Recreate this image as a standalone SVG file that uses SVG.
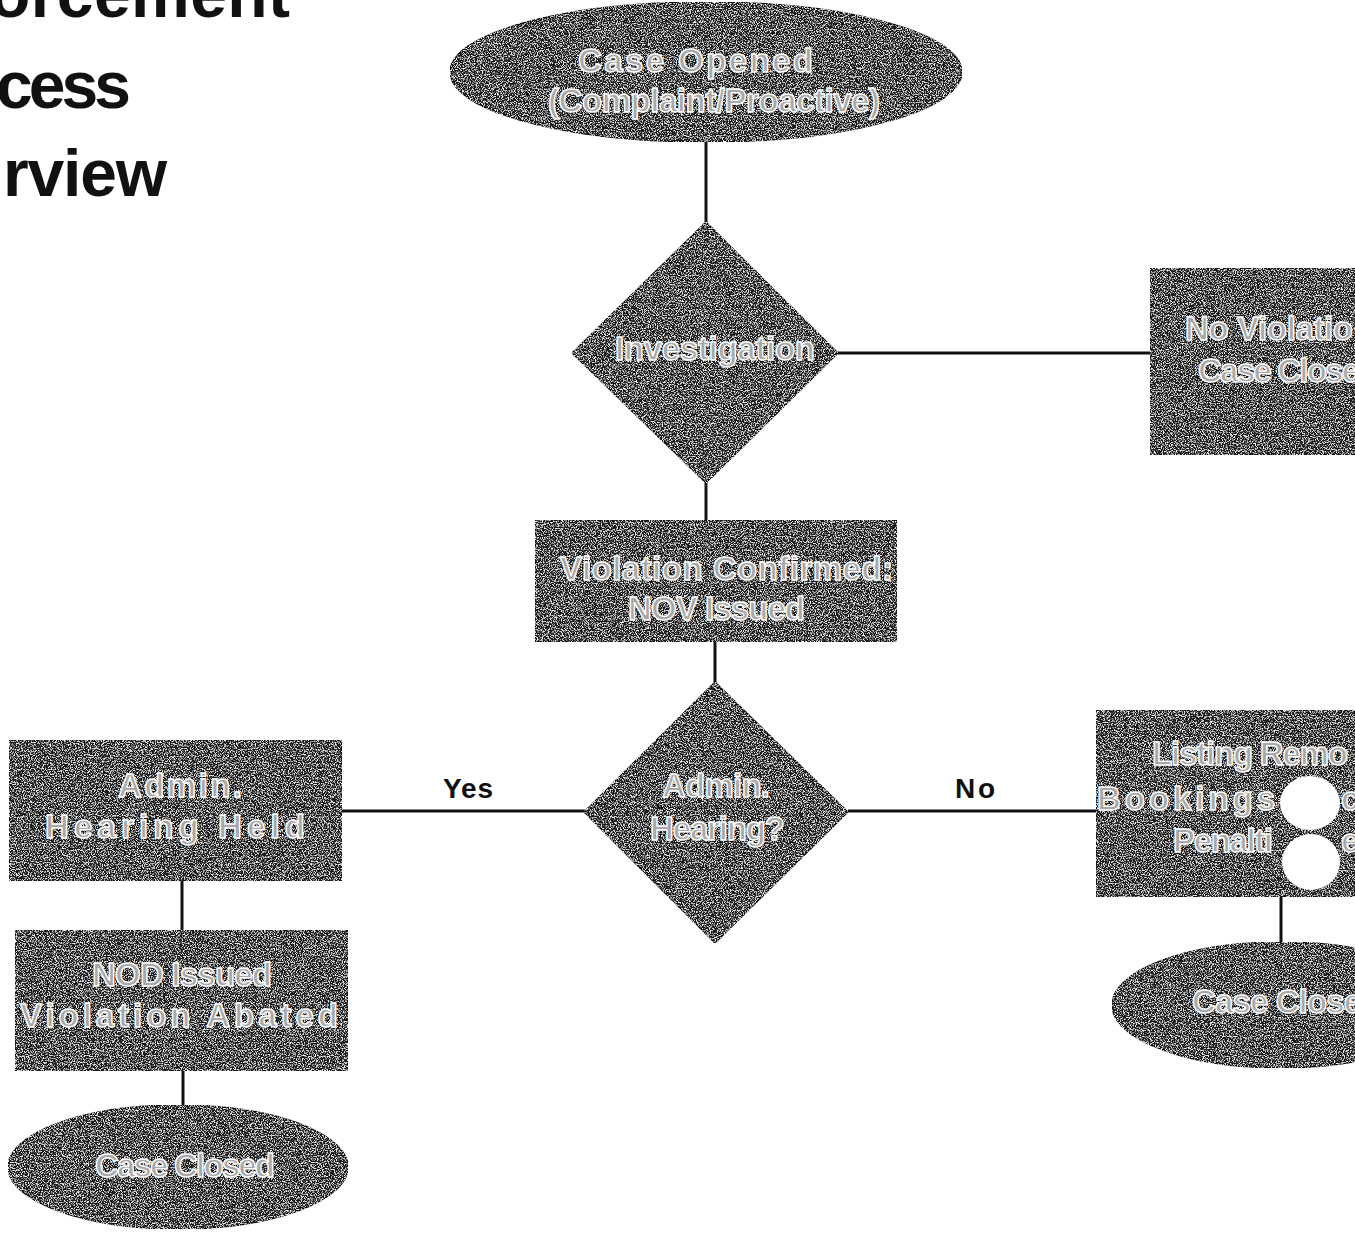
<svg xmlns="http://www.w3.org/2000/svg" width="1355" height="1236" viewBox="0 0 1355 1236">
<defs>
<filter id="grain" x="0" y="0" width="100%" height="100%">
<feTurbulence type="fractalNoise" baseFrequency="0.85" numOctaves="2" seed="7" result="n"/>
<feColorMatrix in="n" type="matrix" values="0 0 0 0 1  0 0 0 0 1  0 0 0 0 1  4 0 0 0 -1.95" result="w"/>
<feComposite in="w" in2="SourceGraphic" operator="in" result="ws"/>
<feMerge><feMergeNode in="SourceGraphic"/><feMergeNode in="ws"/></feMerge>
</filter>
<style>
.shape{fill:#1c1c1c;stroke:#111;stroke-width:1.5;filter:url(#grain)}
.lbl{font-family:"Liberation Sans",Arial,sans-serif;font-weight:bold;font-size:33px;fill:#a8a8a8;stroke:#fff;stroke-width:1.4;paint-order:fill}
.edge{stroke:#111;stroke-width:3;fill:none}
.yn{font-family:"Liberation Sans",Arial,sans-serif;font-weight:bold;font-size:28px;fill:#111}
.title{font-family:"Liberation Sans",Arial,sans-serif;font-weight:bold;font-size:66px;fill:#111}
.blob{fill:#fff}
</style>
</defs>
<rect width="1355" height="1236" fill="#fff"/>

<g id="title">
<text class="title" x="290" y="17" text-anchor="end" textLength="300">orcement</text>
<text class="title" x="131" y="108" text-anchor="end" textLength="135">cess</text>
<text class="title" x="167" y="196" text-anchor="end" textLength="164">rview</text>
</g>

<g id="connectors">
<line class="edge" x1="706" y1="142" x2="706" y2="222"/>
<line class="edge" x1="838" y1="353" x2="1150" y2="353"/>
<line class="edge" x1="706" y1="483" x2="706" y2="520"/>
<line class="edge" x1="715" y1="642" x2="715" y2="682"/>
<line class="edge" x1="342" y1="811" x2="585" y2="811"/>
<line class="edge" x1="848" y1="811" x2="1096" y2="811"/>
<line class="edge" x1="182" y1="881" x2="182" y2="930"/>
<line class="edge" x1="183" y1="1071" x2="183" y2="1105"/>
<line class="edge" x1="1281" y1="897" x2="1281" y2="942"/>
<text class="yn" x="443" y="798" textLength="50">Yes</text>
<text class="yn" x="955" y="798" textLength="40">No</text>
</g>

<g id="case-opened">
<ellipse class="shape" cx="706" cy="72" rx="256" ry="70"/>
<text class="lbl" x="578" y="72" textLength="235">Case Opened</text>
<text class="lbl" x="548" y="112" textLength="332">(Complaint/Proactive)</text>
</g>

<g id="investigation">
<polygon class="shape" points="706,222 838,353 706,483 572,353"/>
<text class="lbl" x="615" y="360" textLength="200">Investigation</text>
</g>

<g id="no-violation">
<rect class="shape" x="1150" y="268" width="230" height="187"/>
<text class="lbl" x="1185" y="340" textLength="168">No Violatio</text>
<text class="lbl" x="1198" y="382" textLength="162">Case Close</text>
</g>

<g id="violation-confirmed">
<rect class="shape" x="535" y="520" width="362" height="122"/>
<text class="lbl" x="560" y="580" textLength="333">Violation Confirmed:</text>
<text class="lbl" x="628" y="620" textLength="177">NOV Issued</text>
</g>

<g id="admin-hearing-q">
<polygon class="shape" points="715,682 848,812 715,943 584,812"/>
<text class="lbl" x="662" y="797" textLength="108">Admin.</text>
<text class="lbl" x="650" y="840" textLength="135">Hearing?</text>
</g>

<g id="admin-hearing-held">
<rect class="shape" x="9" y="740" width="333" height="141"/>
<text class="lbl" x="118" y="797" textLength="124">Admin.</text>
<text class="lbl" x="45" y="838" textLength="260">Hearing Held</text>
</g>

<g id="nod-issued">
<rect class="shape" x="15" y="930" width="333" height="141"/>
<text class="lbl" x="92" y="986" textLength="180">NOD Issued</text>
<text class="lbl" x="20" y="1027" textLength="318">Violation Abated</text>
</g>

<g id="case-closed-left">
<ellipse class="shape" cx="178" cy="1167" rx="170" ry="62"/>
<text class="lbl" x="95" y="1177" textLength="180">Case Closed</text>
</g>

<g id="listing-removed">
<rect class="shape" x="1096" y="710" width="280" height="187"/>
<text class="lbl" x="1152" y="765" textLength="196">Listing Remo</text>
<text class="lbl" x="1097" y="810" textLength="178">Bookings</text>
<text class="lbl" x="1341" y="810">c</text>
<text class="lbl" x="1173" y="852" textLength="100">Penalti</text>
<text class="lbl" x="1341" y="852">e</text>
<ellipse class="blob" cx="1310" cy="803" rx="30" ry="27"/>
<ellipse class="blob" cx="1311" cy="862" rx="29" ry="28"/>
</g>

<g id="case-closed-right">
<ellipse class="shape" cx="1281" cy="1005" rx="169" ry="63"/>
<text class="lbl" x="1192" y="1013" textLength="170">Case Close</text>
</g>
</svg>
